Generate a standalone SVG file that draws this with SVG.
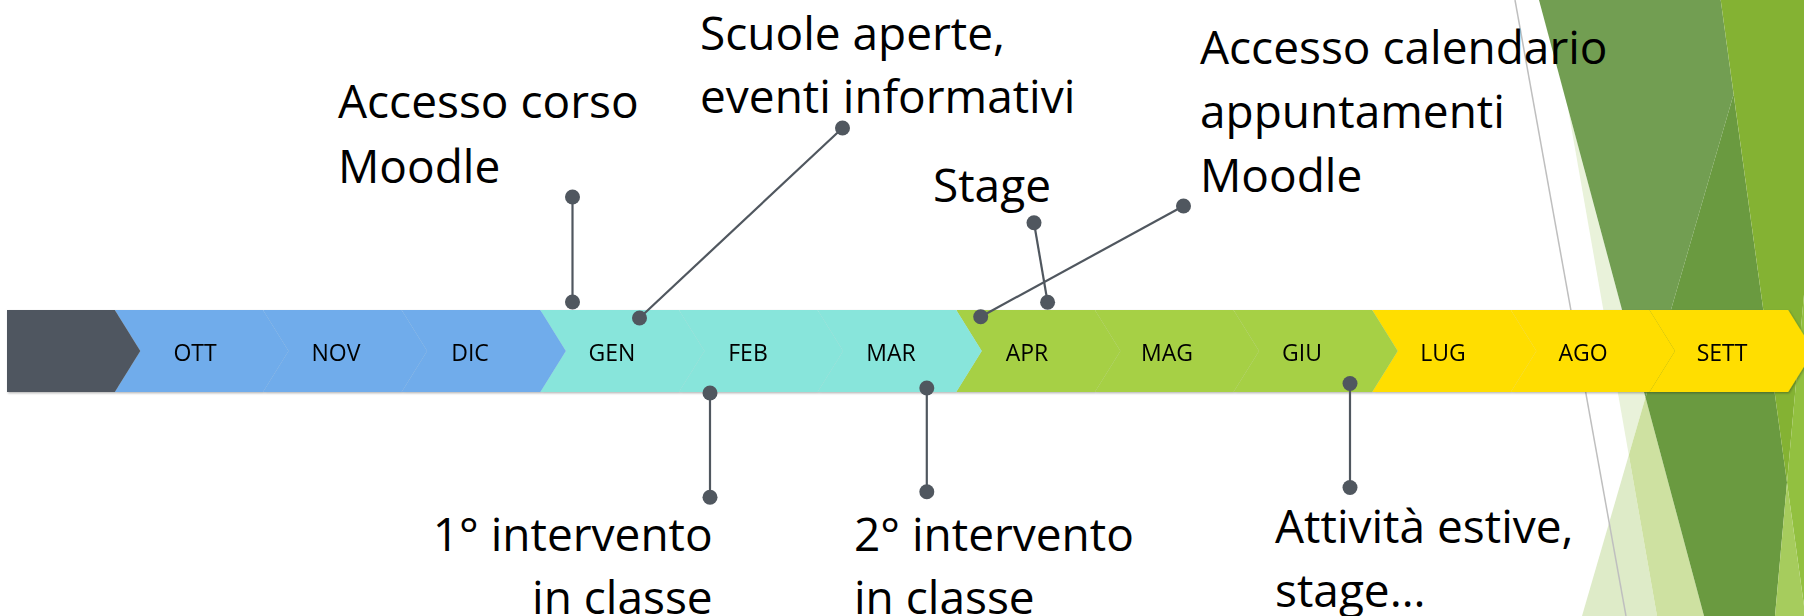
<svg xmlns="http://www.w3.org/2000/svg" width="1804" height="616" viewBox="0 0 1804 616">
  <defs>
    <style>
      .lbl { font-family: "Open Sans", "Liberation Sans", sans-serif; font-size: 46px; fill: #000; }
      .mon { font-family: "Open Sans", "Liberation Sans", sans-serif; font-size: 23px; fill: #000; text-anchor: middle; }
      .blue { fill: #6FACEB; }
      .teal { fill: #88E5DB; }
      .green { fill: #A6D045; }
      .yellow { fill: #FFDE00; }
      .dark { fill: #505760; }
      .conn line { stroke: #50575F; stroke-width: 2.2; }
      .conn circle { fill: #50575F; }
    </style>
    <filter id="sh" x="-10%" y="-20%" width="130%" height="150%">
      <feDropShadow dx="1" dy="1.2" stdDeviation="1" flood-color="#000" flood-opacity="0.3"/>
    </filter>
  </defs>
  <rect width="1804" height="616" fill="#FFFFFF"/>

  <g id="background">
    <polygon points="1567.9,108.06 1645.5,397.54 1628.8,455.03" fill="#E9F2DA"/>
    <polygon points="1628.8,455.03 1657,616 1582,616" fill="#DEEBC8"/>
    <polygon points="1645.5,397.54 1704,616 1657,616 1628.8,455.03" fill="#CEE1A1"/>
    <polygon points="1539,0 1720.7,0 1733.6,94.14 1645.5,397.54" fill="#729E52"/>
    <polygon points="1733.6,94.14 1787,482.5 1775,616 1704,616 1645.5,397.54" fill="#6A9A40"/>
    <polygon points="1720.7,0 1804,0 1804,294.6 1787,482.5" fill="#84B233"/>
    <polygon points="1804,294.6 1804,605.8 1787,482.5" fill="#92C040"/>
    <polygon points="1787,482.5 1804,605.8 1804,616 1775,616" fill="#A6CC5D"/>
    <line x1="1515" y1="0" x2="1626" y2="616" stroke="#BFBFBF" stroke-width="1.5"/>
  </g>

  <g id="timeline" filter="url(#sh)">
    <g id="m-sett"><polygon class="yellow" points="1649.5,310 1788.15,310 1813.65,351 1788.15,392 1649.5,392 1675,351"/><text class="mon" x="1722" y="361">SETT</text></g>
    <g id="m-ago"><polygon class="yellow" points="1510.85,310 1649.5,310 1675,351 1649.5,392 1510.85,392 1536.35,351"/><text class="mon" x="1583" y="361">AGO</text></g>
    <g id="m-lug"><polygon class="yellow" points="1372.2,310 1510.85,310 1536.35,351 1510.85,392 1372.2,392 1397.7,351"/><text class="mon" x="1443" y="361">LUG</text></g>
    <g id="m-giu"><polygon class="green" points="1233.55,310 1372.2,310 1397.7,351 1372.2,392 1233.55,392 1259.05,351"/><text class="mon" x="1302" y="361">GIU</text></g>
    <g id="m-mag"><polygon class="green" points="1094.9,310 1233.55,310 1259.05,351 1233.55,392 1094.9,392 1120.4,351"/><text class="mon" x="1167" y="361">MAG</text></g>
    <g id="m-apr"><polygon class="green" points="956.25,310 1094.9,310 1120.4,351 1094.9,392 956.25,392 981.75,351"/><text class="mon" x="1027" y="361">APR</text></g>
    <g id="m-mar"><polygon class="teal" points="817.6,310 956.25,310 981.75,351 956.25,392 817.6,392 843.1,351"/><text class="mon" x="891" y="361">MAR</text></g>
    <g id="m-feb"><polygon class="teal" points="678.95,310 817.6,310 843.1,351 817.6,392 678.95,392 704.45,351"/><text class="mon" x="748" y="361">FEB</text></g>
    <g id="m-gen"><polygon class="teal" points="540.3,310 678.95,310 704.45,351 678.95,392 540.3,392 565.8,351"/><text class="mon" x="612" y="361">GEN</text></g>
    <g id="m-dic"><polygon class="blue" points="401.65,310 540.3,310 565.8,351 540.3,392 401.65,392 427.15,351"/><text class="mon" x="470" y="361">DIC</text></g>
    <g id="m-nov"><polygon class="blue" points="263,310 401.65,310 427.15,351 401.65,392 263,392 288.5,351"/><text class="mon" x="336" y="361">NOV</text></g>
    <g id="m-ott"><polygon class="blue" points="114.8,310 263,310 288.5,351 263,392 114.8,392 140.3,351"/><text class="mon" x="195" y="361">OTT</text></g>
    <g id="start"><polygon class="dark" points="7,310 114.8,310 140.3,351 114.8,392 7,392"/></g>
  </g>

  <g id="connectors" class="conn">
    <g id="c-moodle"><line x1="572.5" y1="197" x2="572.5" y2="302"/><circle cx="572.5" cy="197" r="7.5"/><circle cx="572.5" cy="302" r="7.5"/></g>
    <g id="c-scuole"><line x1="842.5" y1="128" x2="639.5" y2="318"/><circle cx="842.5" cy="128" r="7.5"/><circle cx="639.5" cy="318" r="7.5"/></g>
    <g id="c-stage"><line x1="1034" y1="222.7" x2="1047.6" y2="302.3"/><circle cx="1034" cy="222.7" r="7.5"/><circle cx="1047.6" cy="302.3" r="7.5"/></g>
    <g id="c-calendario"><line x1="1183.5" y1="206" x2="980.7" y2="316.7"/><circle cx="1183.5" cy="206" r="7.5"/><circle cx="980.7" cy="316.7" r="7.5"/></g>
    <g id="c-int1"><line x1="710" y1="393" x2="710" y2="497.3"/><circle cx="710" cy="393" r="7.5"/><circle cx="710" cy="497.3" r="7.5"/></g>
    <g id="c-int2"><line x1="926.8" y1="388" x2="926.8" y2="491.7"/><circle cx="926.8" cy="388" r="7.5"/><circle cx="926.8" cy="491.7" r="7.5"/></g>
    <g id="c-estive"><line x1="1350" y1="383.5" x2="1350" y2="487.5"/><circle cx="1350" cy="383.5" r="7.5"/><circle cx="1350" cy="487.5" r="7.5"/></g>
  </g>

  <g id="n-moodle"><text class="lbl" x="338" y="118.3">Accesso corso</text><text class="lbl" x="338" y="182.7">Moodle</text></g>
  <g id="n-scuole"><text class="lbl" x="700" y="50">Scuole aperte,</text><text class="lbl" x="700" y="113.3">eventi informativi</text></g>
  <g id="n-stage"><text class="lbl" x="933" y="202">Stage</text></g>
  <g id="n-calendario"><text class="lbl" x="1200" y="64">Accesso calendario</text><text class="lbl" x="1200" y="127.5">appuntamenti</text><text class="lbl" x="1200" y="191.5">Moodle</text></g>
  <g id="n-int1"><text class="lbl" x="712.7" y="551" text-anchor="end">1° intervento</text><text class="lbl" x="712.7" y="614" text-anchor="end">in classe</text></g>
  <g id="n-int2"><text class="lbl" x="854" y="551">2° intervento</text><text class="lbl" x="854" y="614">in classe</text></g>
  <g id="n-estive"><text class="lbl" x="1275" y="543.3">Attività estive,</text><text class="lbl" x="1275" y="607">stage…</text></g>
</svg>
